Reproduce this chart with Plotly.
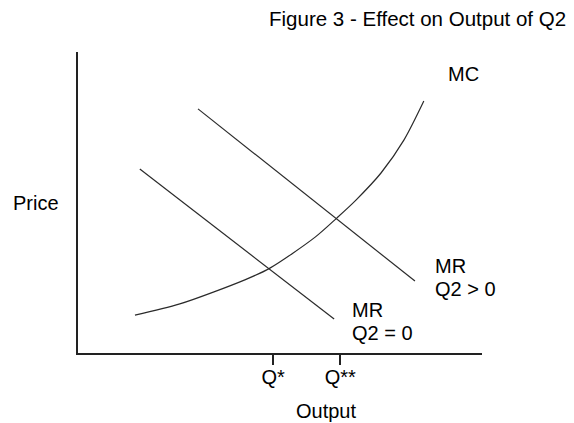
import plotly.graph_objects as go

# Data (conceptual units: Output 0-100, Price 0-100)
mc_output = [14.1, 25.2, 41.3, 47.5, 58.7, 64.1, 68.8, 75.0, 80.7, 85.6]
mc_price = [12.6, 16.3, 24.3, 28.2, 38.5, 44.9, 50.8, 59.8, 70.8, 83.7]

mr0_output = [15.3, 63.4]
mr0_price = [61.1, 11.3]

mr1_output = [29.7, 83.4]
mr1_price = [81.1, 23.9]

q_ticks = [48.3, 64.9]
q_labels = ["Q*", "Q**"]

FONT = "Liberation Sans, Arial, sans-serif"
line_style = dict(color="#2a2a2a", width=1.2)

fig = go.Figure()
fig.add_trace(go.Scatter(x=mc_output, y=mc_price, mode="lines",
                         line=dict(shape="spline", smoothing=0.8, **line_style), hoverinfo="skip"))
fig.add_trace(go.Scatter(x=mr0_output, y=mr0_price, mode="lines", line=line_style, hoverinfo="skip"))
fig.add_trace(go.Scatter(x=mr1_output, y=mr1_price, mode="lines", line=line_style, hoverinfo="skip"))

def ann(text, x, y, xanchor="left"):
    fig.add_annotation(text=text, x=x, y=y, xref="paper", yref="paper",
                       xanchor=xanchor, yanchor="middle", showarrow=False,
                       font=dict(family=FONT, size=20, color="#000"))

ann("MC", 0.912, 0.927)
ann("MR", 0.879, 0.289)
ann("Q2 &gt; 0", 0.879, 0.211)
ann("MR", 0.673, 0.143)
ann("Q2 = 0", 0.673, 0.068)
ann("Price", -0.104, 0.498, "center")
ann("Output", 0.614, -0.193, "center")

# The page body has an 8px margin, so the figure is 8px smaller and margins shifted.
fig.update_layout(
    width=566, height=415,
    margin=dict(l=70, r=92, t=44, b=70),
    paper_bgcolor="white", plot_bgcolor="white",
    showlegend=False,
    title=dict(text="Figure 3 - Effect on Output of Q2", xref="container", yref="container",
               x=0.986, xanchor="right", y=0.974, yanchor="middle",
               font=dict(family=FONT, size=20.5, color="#000")),
    xaxis=dict(range=[0, 100], showgrid=False, zeroline=False, showline=True,
               linecolor="#222", linewidth=2, tickmode="array", tickvals=q_ticks,
               ticktext=q_labels, ticks="outside", ticklen=10, tickwidth=1.5,
               tickcolor="#222", tickfont=dict(family=FONT, size=20, color="#000"),
               ticklabelstandoff=-5, fixedrange=True),
    yaxis=dict(range=[0, 100], showgrid=False, zeroline=False, showline=True,
               linecolor="#222", linewidth=2, showticklabels=False, ticks="",
               fixedrange=True),
)

fig.write_html("out.html")
